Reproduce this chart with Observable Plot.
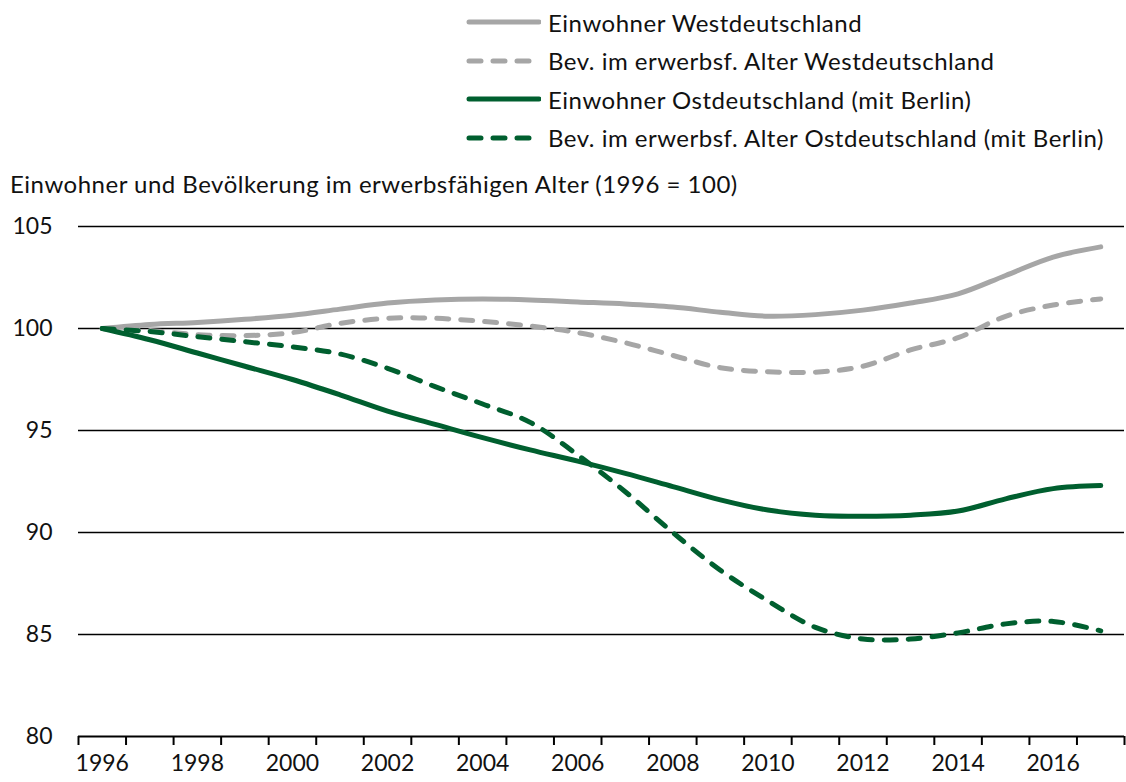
<!DOCTYPE html>
<html><head><meta charset="utf-8">
<script src="https://cdn.jsdelivr.net/npm/d3@7"></script>
<script src="https://cdn.jsdelivr.net/npm/@observablehq/plot@0.6"></script>
<style>
body{margin:0;background:#fff;font-family:Lato,sans-serif;color:#111;}
#wrap{position:relative;width:1126px;height:782px;overflow:hidden;}
#legend{position:absolute;left:465px;top:3px;}
.row{display:flex;align-items:center;height:38.5px;font-size:24px;letter-spacing:0.5px;}
.row svg{margin-right:7px;}
#ytitle{position:absolute;left:10px;top:169px;font-size:24px;letter-spacing:0.5px;white-space:nowrap;}
#chart{position:absolute;left:0;top:200px;}
</style></head><body>
<div id="wrap"><div id="legend"></div><div id="ytitle"></div><div id="chart"></div></div>
<script>
const years = [1996,1997,1998,1999,2000,2001,2002,2003,2004,2005,2006,2007,2008,2009,2010,2011,2012,2013,2014,2015,2016,2017];
const westEinwohner = [100,100.2,100.3,100.45,100.65,100.95,101.25,101.4,101.45,101.4,101.3,101.2,101.05,100.8,100.6,100.68,100.9,101.25,101.7,102.6,103.5,104.0];
const westErwerb = [100,99.9,99.7,99.65,99.8,100.25,100.5,100.5,100.35,100.12,99.8,99.3,98.68,98.08,97.88,97.86,98.15,98.95,99.55,100.6,101.15,101.45];
const ostEinwohner = [100,99.45,98.8,98.15,97.5,96.75,95.95,95.3,94.65,94.05,93.5,92.9,92.25,91.6,91.1,90.85,90.8,90.85,91.05,91.65,92.15,92.3];
const ostErwerb = [100,99.85,99.6,99.35,99.1,98.75,98.05,97.15,96.3,95.4,93.8,92.0,90.0,88.15,86.65,85.35,84.78,84.78,85.08,85.52,85.64,85.18];
const seriesNames = ["Einwohner Westdeutschland","Bev. im erwerbsf. Alter Westdeutschland","Einwohner Ostdeutschland (mit Berlin)","Bev. im erwerbsf. Alter Ostdeutschland (mit Berlin)"];
const seriesValues = [westEinwohner, westErwerb, ostEinwohner, ostErwerb];
const seriesColors = ["#a6a6a6","#a6a6a6","#005f2f","#005f2f"];
const seriesDash = [null,"12,12",null,"12,12"];
const yTicks = [80,85,90,95,100,105];
const xLabelYears = [1996,1998,2000,2002,2004,2006,2008,2010,2012,2014,2016];
const yTitle = "Einwohner und Bevölkerung im erwerbsfähigen Alter (1996 = 100)";

const data = seriesNames.flatMap((name, i) => years.map((yr, j) => ({series: name, year: yr, value: seriesValues[i][j]})));
const boundaries = years.map(y => y - 0.5).concat([years[years.length-1] + 0.5]);

// legend
const legend = document.getElementById("legend");
seriesNames.forEach((name, i) => {
  const row = document.createElement("div");
  row.className = "row";
  row.innerHTML = `<svg width="76" height="10"><line x1="4" x2="74" y1="5" y2="5" stroke="${seriesColors[i]}" stroke-width="5" stroke-linecap="round" ${seriesDash[i] ? `stroke-dasharray="${seriesDash[i]}"` : ""}/></svg><span>${name}</span>`;
  legend.appendChild(row);
});
document.getElementById("ytitle").textContent = yTitle;

const font = "Lato, sans-serif";
const plot = Plot.plot({
  width: 1126,
  height: 582,
  marginTop: 26,
  marginBottom: 46,
  marginLeft: 78,
  marginRight: 2,
  style: {fontFamily: font, fontSize: "23px", color: "#111", background: "white"},
  x: {domain: [1995.5, 2017.5], label: null},
  y: {domain: [80, 105], label: null},
  marks: [
    Plot.ruleY(yTicks.filter(d => d > 80), {stroke: "#000", strokeWidth: 1.6}),
    Plot.ruleY([80], {stroke: "#000", strokeWidth: 2}),
    Plot.axisX({ticks: boundaries, tickSize: 9, tickFormat: () => "", strokeWidth: 2, stroke: "#000", label: null}),
    Plot.axisX({ticks: xLabelYears, tickSize: 0, tickPadding: 18, tickFormat: d => String(d), fontSize: 23, label: null}),
    Plot.axisY({ticks: yTicks, tickSize: 0, tickPadding: 26, tickFormat: d => String(d), fontSize: 23, label: null}),
    ...seriesNames.map((name, i) => Plot.line(data.filter(d => d.series === name), {
      x: "year", y: "value", stroke: seriesColors[i], strokeWidth: 5,
      strokeDasharray: seriesDash[i] || undefined, strokeLinecap: "round", strokeLinejoin: "round",
      curve: "catmull-rom"
    }))
  ]
});
document.getElementById("chart").appendChild(plot);
</script>
</body></html>
